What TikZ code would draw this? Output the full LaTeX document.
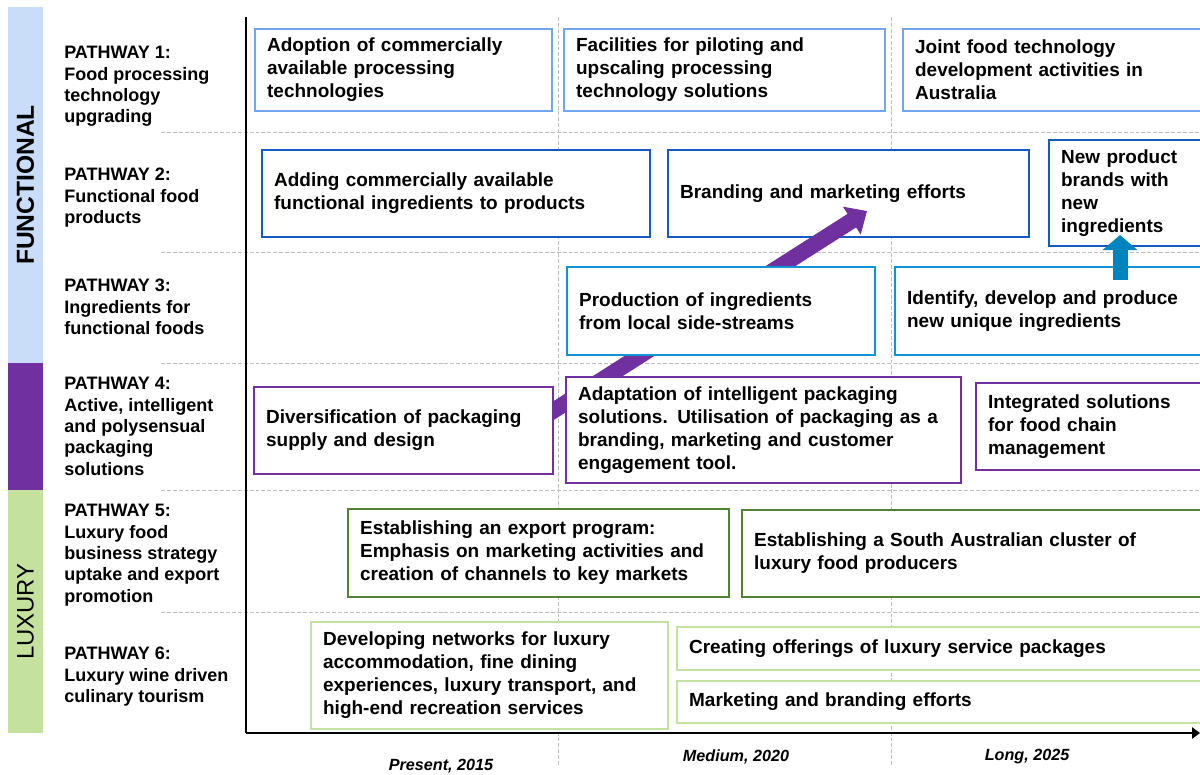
\documentclass[tikz,border=0pt]{standalone}
\usepackage{fontspec}
\setmainfont{Liberation Sans}
\usetikzlibrary{arrows.meta}

\definecolor{techblue}{RGB}{112,166,240}
\definecolor{prodblue}{RGB}{22,88,196}
\definecolor{ingrblue}{RGB}{18,148,210}
\definecolor{packpurple}{RGB}{112,48,160}
\definecolor{exportgreen}{RGB}{84,130,53}
\definecolor{tourgreen}{RGB}{195,225,160}
\definecolor{funcband}{RGB}{201,221,248}
\definecolor{luxband}{RGB}{196,226,158}
\definecolor{arrowblue}{RGB}{0,132,189}
\definecolor{gridgray}{RGB}{190,190,190}

\pgfdeclarelayer{grid}
\pgfdeclarelayer{under}
\pgfsetlayers{grid,under,main}

\tikzset{
  actbox/.style={draw, fill=white, line width=1.6pt, anchor=west, align=left,
    inner xsep=0.3cm, inner ysep=0pt, font=\bfseries\fontsize{13.5}{16.4}\selectfont},
  pathlabel/.style={anchor=north west, align=left, inner sep=0pt,
    font=\bfseries\fontsize{12.8}{15.2}\selectfont},
  yearlabel/.style={font=\bfseries\itshape\fontsize{11.5}{13}\selectfont},
  band/.style={rotate=90, minimum height=0.875cm, inner sep=0pt},
  gridline/.style={draw=gridgray, dash pattern=on 2.8pt off 1.4pt, line width=0.7pt},
  packarrow/.style={draw=packpurple, line width=0.4cm,
    -{Triangle[length=0.45cm, width=0.8cm]}},
  ingarrow/.style={draw=arrowblue, line width=0.375cm,
    -{Triangle[length=0.375cm, width=0.85cm]}},
}

\begin{document}
\begin{tikzpicture}[x=0.025cm, y=-0.025cm]
    \useasboundingbox (0,0) rectangle (1200,774);

    % Side bands
    \node[band, fill=funcband, minimum width=8.9cm,
          font=\bfseries\fontsize{17.5}{20}\selectfont] (functional) at (25.5,185) {FUNCTIONAL};
    \node[band, fill=packpurple, minimum width=3.175cm] (packband) at (25.5,426.5) {};
    \node[band, fill=luxband, minimum width=6.075cm,
          font=\fontsize{17}{20}\selectfont] (luxury) at (25.5,611.5) {LUXURY};

    % Pathway labels
    \node[pathlabel] (p1) at (64,46) {PATHWAY 1:\\Food processing\\technology\\upgrading};
    \node[pathlabel] (p2) at (64,168) {PATHWAY 2:\\Functional food\\products};
    \node[pathlabel] (p3) at (64,279) {PATHWAY 3:\\Ingredients for\\functional foods};
    \node[pathlabel] (p4) at (64,377) {PATHWAY 4:\\Active, intelligent\\and polysensual\\packaging\\solutions};
    \node[pathlabel] (p5) at (64,504) {PATHWAY 5:\\Luxury food\\business strategy\\uptake and export\\promotion};
    \node[pathlabel] (p6) at (64,647) {PATHWAY 6:\\Luxury wine driven\\culinary tourism};

    % Grid and axes
    \begin{pgfonlayer}{grid}
      \foreach \y in {132,252,363,490,612}
        \draw[gridline] (161,\y) -- (1200,\y);
      \foreach \x in {558,891}
        \draw[gridline] (\x,17) -- (\x,766);
    \end{pgfonlayer}
    \draw[line width=1.5pt] (246,17) -- (246,733);
    \draw[line width=1.5pt, -{Triangle[length=0.2cm, width=0.28cm]}] (246,733) -- (1200,733);

    \node[yearlabel] (present) at (441,766) {Present, 2015};
    \node[yearlabel] (medium)  at (736,757) {Medium, 2020};
    \node[yearlabel] (long)    at (1027,757) {Long, 2025};

    % Pathway 1
    \node[actbox, draw=techblue, text width=6.825cm, minimum height=2.05cm] (A1) at (254,70)
      {Adoption of commercially\\available processing\\technologies};
    \node[actbox, draw=techblue, text width=7.425cm, minimum height=2.05cm] (A2) at (563,70)
      {Facilities for piloting and\\upscaling processing\\technology solutions};
    \node[actbox, draw=techblue, text width=7.225cm, minimum height=2.05cm] (A3) at (902,70)
      {Joint food technology\\development activities in\\Australia};

    % Pathway 2
    \node[actbox, draw=prodblue, text width=9.1cm, minimum height=2.175cm] (B1) at (261,193.5)
      {Adding commercially available\\functional ingredients to products};
    \begin{pgfonlayer}{under}
      \node[actbox, draw=prodblue, text width=8.425cm, minimum height=2.175cm] (B2) at (667,193.5)
        {Branding and marketing efforts};
    \end{pgfonlayer}
    \node[actbox, draw=prodblue, text width=3.575cm, minimum height=2.65cm] (B3) at (1048,193)
      {New product\\brands with\\new\\ingredients};

    % Pathway 3
    \node[actbox, draw=ingrblue, text width=7.1cm, minimum height=2.2cm] (C1) at (566,311)
      {Production of ingredients\\from local side-streams};
    \node[actbox, draw=ingrblue, text width=7.425cm, minimum height=2.2cm] (C2) at (894,311)
      {Identify, develop and produce\\new unique ingredients};

    % Pathway 4
    \node[actbox, draw=packpurple, text width=6.875cm, minimum height=2.175cm] (D1) at (253,430.5)
      {Diversification of packaging\\supply and design};
    \node[actbox, draw=packpurple, text width=9.275cm, minimum height=2.65cm] (D2) at (565,430)
      {Adaptation of intelligent packaging\\solutions. Utilisation of packaging as a\\branding, marketing and customer\\engagement tool.};
    \node[actbox, draw=packpurple, text width=5.4cm, minimum height=2.175cm] (D3) at (975,426.5)
      {Integrated solutions\\for food chain\\management};

    % Pathway 5
    \node[actbox, draw=exportgreen, text width=8.925cm, minimum height=2.2cm] (E1) at (347,553)
      {Establishing an export program:\\Emphasis on marketing activities and\\creation of channels to key markets};
    \node[actbox, draw=exportgreen, text width=11.25cm, minimum height=2.175cm] (E2) at (741,553.5)
      {Establishing a South Australian cluster of\\luxury food producers};

    % Pathway 6
    \node[actbox, draw=tourgreen, text width=8.325cm, minimum height=2.675cm] (F1) at (310,675.5)
      {Developing networks for luxury\\accommodation, fine dining\\experiences, luxury transport, and\\high-end recreation services};
    \node[actbox, draw=tourgreen, text width=12.875cm, minimum height=1.075cm] (F2) at (676,648.5)
      {Creating offerings of luxury service packages};
    \node[actbox, draw=tourgreen, text width=12.875cm, minimum height=1.05cm] (F3) at (676,702)
      {Marketing and branding efforts};

    % Connect the nodes
    \coordinate (brandtip) at (867,211);
    \coordinate (newtip) at (1120,235);
    \begin{pgfonlayer}{under}
      \draw[packarrow] ([xshift=-0.8cm]D1.east) -- (brandtip);
    \end{pgfonlayer}
    \draw[ingarrow] ([yshift=-0.35cm]C2.north -| newtip) -- (newtip);

\end{tikzpicture}
\end{document}
